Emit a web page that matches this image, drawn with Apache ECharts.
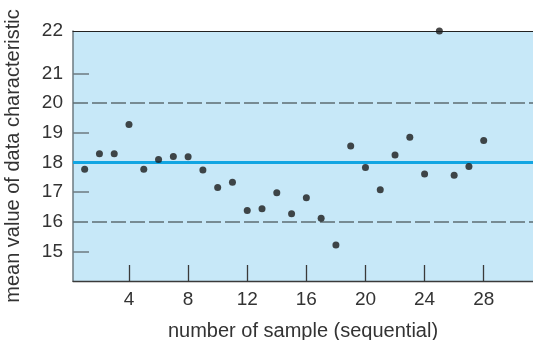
<!DOCTYPE html>
<html>
<head>
<meta charset="utf-8">
<script src="https://cdn.jsdelivr.net/npm/echarts@6/dist/echarts.min.js"></script>
<style>html,body{margin:0;padding:0;background:#fff}#c{width:533px;height:340px}</style>
</head>
<body>
<div id="c"></div>
<script>
const samples = [1,2,3,4,5,6,7,8,9,10,11,12,13,14,15,16,17,18,19,20,21,22,23,24,25,26,27,28];
const means = [17.77,18.29,18.29,19.28,17.77,18.1,18.2,18.19,17.74,17.15,17.33,16.38,16.44,16.98,16.27,16.81,16.12,15.21,18.55,17.83,17.08,18.25,18.85,17.61,22,17.57,17.86,18.74];
const xTickValues = [4,8,12,16,20,24,28];
const yLabelValues = [15,16,17,18,19,20,21,22];
const yTickValues = [15,17,19,21];
const centerLine = 18;
const limitLines = [16,20];
const xTitle = 'number of sample (sequential)';
const yTitle = 'mean value of data characteristic';

const font = 'Liberation Sans';
const chart = echarts.init(document.getElementById('c'), null, {renderer:'canvas'});
chart.setOption({
  animation:false,
  backgroundColor:'#fff',
  grid:{left:73, top:31, right:0, bottom:59, show:true, backgroundColor:'#c7e8f8', borderWidth:0,
        containLabel:false, outerBoundsMode:'none'},
  xAxis:[{
    type:'value', min:0.211, max:31.335,
    axisLine:{show:true, lineStyle:{color:'#3a3a3a', width:1.3}},
    axisTick:{show:true, inside:true, length:16, customValues:xTickValues, lineStyle:{color:'#3a3a3a', width:1.3}},
    axisLabel:{customValues:xTickValues, color:'#333', fontSize:19, fontFamily:font, margin:9},
    splitLine:{show:false},
    name:xTitle, nameLocation:'middle', nameGap:40,
    nameTextStyle:{color:'#333', fontSize:20, fontFamily:font}
  },{
    type:'value', position:'top', min:0, max:1,
    axisLine:{show:true, onZero:false, lineStyle:{color:'#222', width:1}},
    axisTick:{show:false}, axisLabel:{show:false}, splitLine:{show:false}
  }],
  yAxis:[{
    type:'value', min:14, max:22,
    breaks:[{start:21.5, end:21.55, gap:'5.7%'}],
    breakArea:{show:true, zigzagAmplitude:0, itemStyle:{color:'rgba(0,0,0,0)', borderColor:'rgba(0,0,0,0)', borderWidth:0, opacity:0}},
    axisLine:{show:false},
    axisTick:{show:true, inside:true, length:16, customValues:yTickValues, lineStyle:{color:'#6d7a80', width:1.5}},
    axisLabel:{customValues:yLabelValues, color:'#333', fontSize:19, fontFamily:font, margin:10},
    splitLine:{show:false},
    name:yTitle, nameLocation:'middle', nameGap:50,
    nameTextStyle:{color:'#333', fontSize:20, fontFamily:font}
  },{
    type:'value', position:'left', min:0, max:1,
    axisLine:{show:true, onZero:false, lineStyle:{color:'#6d7a80', width:1.5}},
    axisTick:{show:false}, axisLabel:{show:false}, splitLine:{show:false}
  }],
  series:[{
    type:'scatter',
    data:samples.map((s,i)=>[s,means[i]]),
    symbolSize:7,
    itemStyle:{color:'#1a1a1a'},
    z:5,
    markLine:{
      silent:true, symbol:'none', label:{show:false},
      data:[
        ...limitLines.map(v=>({yAxis:v, lineStyle:{color:'#5e6c72', width:1.5, type:[15,4]}})),
        {yAxis:centerLine, lineStyle:{color:'#12a5e2', width:3, type:'solid'}}
      ]
    }
  }]
});
</script>
</body>
</html>
